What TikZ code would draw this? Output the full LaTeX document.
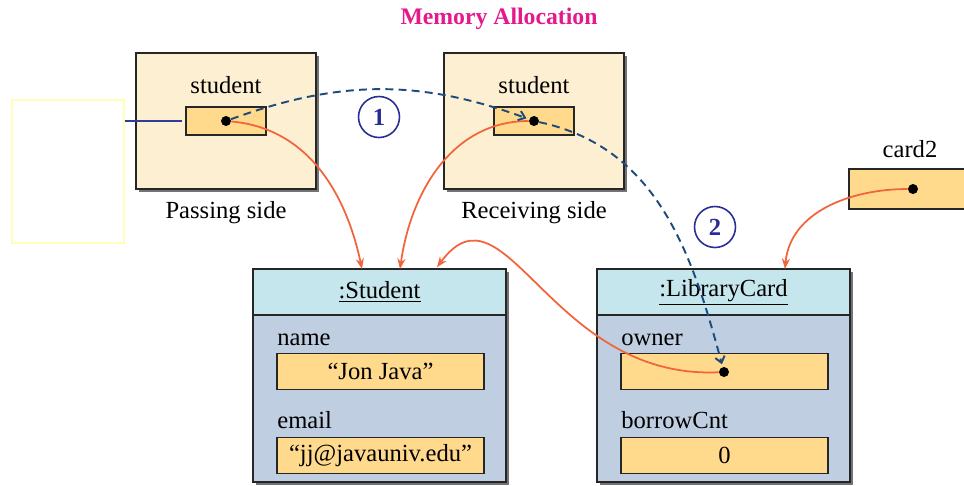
\documentclass[tikz,border=0pt]{standalone}
\usepackage{fontspec}
\setmainfont{Liberation Serif}
\usetikzlibrary{positioning,arrows.meta,shadows}

\definecolor{sidefill}{RGB}{253,240,210}
\definecolor{slotfill}{RGB}{255,217,140}
\definecolor{headfill}{RGB}{198,230,238}
\definecolor{bodyfill}{RGB}{191,206,224}
\definecolor{refred}{RGB}{242,100,60}
\definecolor{passblue}{RGB}{30,75,125}
\definecolor{stepblue}{RGB}{40,45,150}
\definecolor{titlepink}{RGB}{230,25,140}
\definecolor{paleyellow}{RGB}{255,255,185}
\definecolor{feedblue}{RGB}{50,60,150}

\def \textsize {\fontsize{14pt}{16pt}\selectfont}
\def \objwidth {5.06cm}
\def \fieldwidth {4.14cm}
\def \fieldheight {0.72cm}

\tikzset{
  txt/.style={font=\textsize, inner sep=0pt},
  sidebox/.style={draw=black!85, line width=0.9pt, fill=sidefill, outer sep=0pt,
    minimum width=3.6cm, minimum height=2.72cm,
    drop shadow={shadow xshift=1.6pt, shadow yshift=-1.6pt, fill=black!55, opacity=1}},
  slot/.style={draw=black!85, line width=0.8pt, fill=slotfill, outer sep=0pt, font=\textsize},
  field/.style={slot, minimum width=\fieldwidth, minimum height=\fieldheight},
  headbox/.style={draw=black!85, line width=0.9pt, fill=headfill, outer sep=0pt, font=\textsize,
    minimum width=\objwidth, minimum height=0.92cm,
    drop shadow={shadow xshift=1.6pt, shadow yshift=-1.6pt, fill=black!55, opacity=1}},
  bodybox/.style={draw=black!85, line width=0.9pt, fill=bodyfill, outer sep=0pt,
    minimum width=\objwidth, minimum height=3.34cm,
    drop shadow={shadow xshift=1.6pt, shadow yshift=-1.6pt, fill=black!55, opacity=1}},
  dot/.style={circle, fill=black, inner sep=0pt, minimum size=0.2cm},
  stepmark/.style={circle, draw=stepblue, line width=0.9pt, text=stepblue, inner sep=0pt,
    minimum size=0.82cm, font=\textsize\bfseries},
  refarrow/.style={refred, line width=1pt, -{Stealth[length=6pt,width=4.6pt]}},
  passarrow/.style={passblue, line width=1.1pt, dash pattern=on 4.5pt off 3pt,
    -{Straight Barb[length=3.5pt,width=5.5pt]}, shorten >=1.5pt}
}

\begin{document}
\begin{tikzpicture}[x=0.02cm, y=0.02cm]
\useasboundingbox (0,0) rectangle (964,-485);

% Draw the title
\node[font=\fontsize{13.5pt}{16pt}\selectfont\bfseries, text=titlepink] (title) at (499,-19) {Memory Allocation};

% Draw the empty frame on the left
\node[draw=paleyellow, line width=0.8pt, minimum width=2.24cm, minimum height=2.86cm] (blank) at (68,-171.5) {};

% Draw the passing side
\node[sidebox] (passbox) at (226,-121) {};
\node[txt, anchor=base] (passname) at (226,-93) {student};
\node[slot, minimum width=1.6cm, minimum height=0.56cm] (passslot) at (226,-121) {};
\node[dot] (passdot) at (226,-121) {};
\node[txt, anchor=base] (passcap) at (226,-218) {Passing side};

% Draw the receiving side
\node[sidebox] (recvbox) at (534,-121) {};
\node[txt, anchor=base] (recvname) at (534,-93) {student};
\node[slot, minimum width=1.6cm, minimum height=0.56cm] (recvslot) at (534,-121) {};
\node[dot] (recvdot) at (534,-121) {};
\node[txt, anchor=base] (recvcap) at (534,-218) {Receiving side};

% Draw the line from the empty frame
\draw[feedblue, line width=0.7pt] (passslot.west -| blank.east) -- ([xshift=-2pt]passslot.west);

% Draw card2
\node[txt, anchor=base] (cardname) at (910,-157) {card2};
\node[slot, minimum width=2.52cm, minimum height=0.8cm] (cardslot) at (912,-189) {};
\node[dot] (carddot) at (913,-189) {};

% Draw the Student object
\node[headbox] (stuhead) at (379.5,-292) {\underline{:Student}};
\node[bodybox, below=0pt of stuhead] (stubody) {};
\node[txt, anchor=base west] (namelbl) at (277,-345) {name};
\node[field] (nameslot) at (380.5,-371.5) {“Jon Java”};
\node[txt, anchor=base west] (emaillbl) at (277,-428) {email};
\node[field] (emailslot) at (380.5,-455.5) {“jj@javauniv.edu”};

% Draw the LibraryCard object
\node[headbox] (libhead) at (723.5,-292) {\underline{:LibraryCard}};
\node[bodybox, below=0pt of libhead] (libbody) {};
\node[txt, anchor=base west] (ownerlbl) at (621,-345) {owner};
\node[field] (ownerslot) at (724.5,-371.5) {};
\node[dot] (ownerdot) at (724,-372) {};
\node[txt, anchor=base west] (cntlbl) at (621,-428) {borrowCnt};
\node[field] (cntslot) at (724.5,-455.5) {0};

% Draw the references
\draw[refarrow] (passdot) to[out=-5,in=102] ([xshift=-0.35cm]stuhead.north);
\draw[refarrow] (recvdot) to[out=180,in=82] ([xshift=0.41cm]stuhead.north);
\draw[refarrow] (ownerdot) .. controls (550,-380) and (505,-175) .. ([xshift=1.15cm,yshift=1pt]stuhead.north);
\draw[refarrow] (carddot) to[out=180,in=85] ([xshift=1.23cm]libhead.north);

% Draw the passing steps
\draw[passarrow] (passdot) to[out=20,in=160] (recvdot);
\draw[passarrow] (recvdot) to[out=-12,in=105] (ownerdot);
\node[stepmark] (stepone) at (379,-117) {1};
\node[stepmark] (steptwo) at (715,-227) {2};
\end{tikzpicture}
\end{document}
